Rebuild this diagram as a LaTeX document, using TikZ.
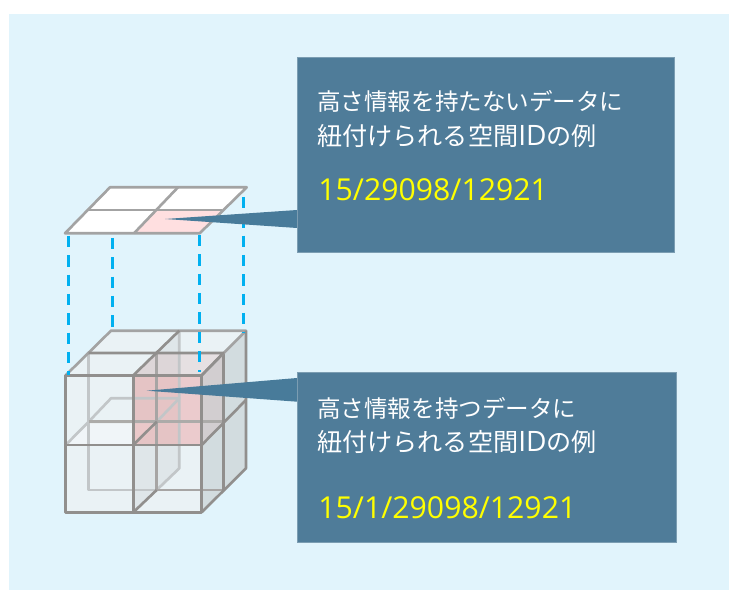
\documentclass[tikz,border=0pt]{standalone}
\usepackage{fontspec}
\usepackage{xcolor}
\usetikzlibrary{positioning}
\newfontfamily\jpfont{Noto Sans CJK JP}
\newfontfamily\idfont{Open Sans}
\definecolor{panelblue}{HTML}{E1F4FC}
\definecolor{boxblue}{HTML}{4F7C99}
\definecolor{tailblue}{HTML}{487B9A}
\definecolor{dashblue}{HTML}{00B0F0}
\definecolor{edgegray}{HTML}{918F8D}
\definecolor{flatgray}{HTML}{A3A3A3}
\definecolor{backgray}{HTML}{C2C6C8}
\definecolor{sidegray}{HTML}{D2DCDF}
\definecolor{cubewhite}{HTML}{EAF2F5}
\definecolor{cellpink}{HTML}{FFDFE0}
\definecolor{idyellow}{HTML}{FFFF00}
\tikzset{
  callbox/.style={draw=boxblue!75!white,line width=0.5pt,fill=boxblue,inner sep=0pt,anchor=north west},
  calltail/.style={fill=tailblue},
  jptext/.style={inner sep=0pt,anchor=west,text=white,font=\jpfont\fontsize{13.4}{16}\selectfont},
  jpwide/.style={jptext,font=\jpfont\fontsize{14.3}{16}\selectfont},
  idtext/.style={inner sep=0pt,anchor=west,text=idyellow,font=\idfont\fontsize{17.2}{20}\selectfont},
  edge/.style={draw=edgegray,line width=1.5pt,line join=round},
  flatedge/.style={draw=flatgray,line width=1.5pt,line join=round},
  backedge/.style={draw=backgray,line width=1.5pt,line join=round},
  dropline/.style={draw=dashblue,line width=1.6pt,dash pattern=on 6.5pt off 4.5pt}
}
\newcommand{\idword}{{\idfont\fontsize{16}{16}\selectfont ID}}
\begin{document}
\begin{tikzpicture}[x=0.02cm,y=-0.02cm]
\useasboundingbox (0,0) rectangle (729,590);
\fill [panelblue] (9,14) rectangle (729,590);
% flat layer
\fill [white] (65,233.3) -- (110,187.3) -- (246.7,187.3) -- (199.7,233.3) -- cycle;
\fill [cellpink] (134,233.3) -- (157,210) -- (222,210) -- (199.7,233.3) -- cycle;
\draw [flatedge] (65,233.3) -- (110,187.3) -- (246.7,187.3) -- (199.7,233.3) -- cycle;
\draw [flatedge] (88,210) -- (222,210);
\draw [flatedge] (134,233.3) -- (178,187.3);
% cube fills
\fill [cubewhite] (65.7,375.3) -- (111,330.7) -- (246,330.7) -- (246,468.3) -- (201.7,512.3) -- (65.7,512.3) -- cycle;
\fill [sidegray] (201.7,375.3) -- (246,330.7) -- (246,468.3) -- (201.7,512.3) -- cycle;
\fill [gray,opacity=0.1] (133.3,375.3) -- (179.3,330.7) -- (179.3,468.3) -- (133.3,512.3) -- cycle;
\fill [white,opacity=0.3] (65.7,445) -- (88.7,421.7) -- (156.7,421.7) -- (133.3,445) -- cycle;
\fill [red!45!gray!60!white,opacity=0.18] (133.3,375.3) -- (156.7,353) -- (223.3,353) -- (223.3,421.7) -- (201.7,445) -- (133.3,445) -- cycle;
\fill [red!45!white,opacity=0.24] (133.3,375.3) rectangle (201.7,445);
% hidden edges
\draw [backedge] (88.7,353) -- (88.7,490) -- (156.7,490);
\draw [backedge] (88.7,421.7) -- (111,398.3) -- (179.3,398.3) -- (156.7,421.7);
\draw [backedge] (179.3,330.7) -- (179.3,468.3) -- (156.7,490);
\draw [backedge] (65.7,445) -- (88.7,421.7) -- (156.7,421.7);
% visible edges
\draw [edge,draw=edgegray!75!white] (88.7,421.7) -- (223.3,421.7);
\draw [edge,draw=edgegray!80!white] (156.7,353) -- (156.7,490) -- (223.3,490);
\draw [edge] (223.3,353) -- (223.3,490);
\draw [edge,draw=flatgray] (65.7,375.3) -- (111,330.7) -- (246,330.7) -- (201.7,375.3);
\draw [edge] (88.7,353) -- (223.3,353) -- (201.7,375.3);
\draw [edge] (133.3,375.3) -- (179.3,330.7);
\draw [edge] (246,330.7) -- (246,468.3) -- (201.7,512.3);
\draw [edge] (133.3,445) -- (156.7,421.7);
\draw [edge] (201.7,445) -- (246,400);
\draw [edge] (133.3,512.3) -- (156.7,490);
\draw [edge] (65.7,375.3) rectangle (201.7,512.3);
\draw [edge] (65.7,445) -- (201.7,445);
\draw [edge] (133.3,375.3) -- (133.3,512.3);
% drop lines
\coordinate (drop1a) at (68.5,236);
\coordinate (drop1b) at (68.5,375);
\coordinate (drop2a) at (112.5,238);
\coordinate (drop2b) at (112.5,330);
\coordinate (drop3a) at (199.5,235);
\coordinate (drop3b) at (199.5,372);
\coordinate (drop4a) at (243.5,197);
\coordinate (drop4b) at (243.5,333);
\draw [dropline] (drop1a) -- (drop1b);
\draw [dropline] (drop2a) -- (drop2b);
\draw [dropline] (drop3a) -- (drop3b);
\draw [dropline] (drop4a) -- (drop4b);
% callouts
\coordinate (tip1) at (165,219);
\coordinate (tip2) at (146.7,390.7);
\fill [calltail] (tip1) -- (297,210) -- (297,228) -- cycle;
\fill [calltail] (tip2) -- (297,378) -- (297,401.7) -- cycle;
\node [callbox,minimum width=7.55cm,minimum height=3.9cm] (box1) at (296.7,57.3) {};
\node [callbox,minimum width=7.58cm,minimum height=3.4cm] (box2) at (296.7,371.7) {};
\node [jptext] (line1a) at (317,101.7) {高さ情報を持たないデータに};
\node [jpwide] (line1b) at (317,136) {紐付けられる空間\idword の例};
\node [idtext] (code1) at (318,190) {15/29098/12921};
\node [jptext] (line2a) at (317,408) {高さ情報を持つデータに};
\node [jpwide] (line2b) at (317,442) {紐付けられる空間\idword の例};
\node [idtext] (code2) at (318,508) {15/1/29098/12921};
\end{tikzpicture}
\end{document}
